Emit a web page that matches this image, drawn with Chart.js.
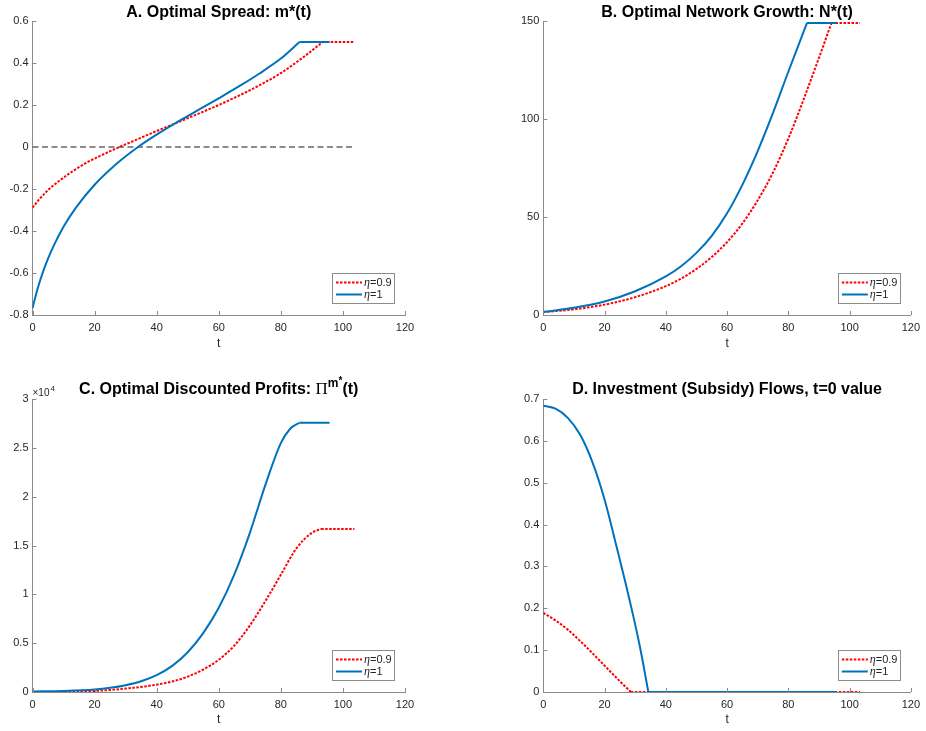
<!DOCTYPE html>
<html>
<head>
<meta charset="utf-8">
<script src="https://cdn.jsdelivr.net/npm/chart.js@4.4.1/dist/chart.umd.min.js"></script>
<style>
  html, body { margin: 0; padding: 0; background: #fff; }
  #wrap { position: relative; width: 926px; height: 731px; }
  canvas { position: absolute; }
</style>
</head>
<body>
<div id="wrap">
  <canvas id="chartA" width="463" height="366" style="left:0;top:0"></canvas>
  <canvas id="chartB" width="463" height="366" style="left:463px;top:0"></canvas>
  <canvas id="chartC" width="463" height="365" style="left:0;top:366px"></canvas>
  <canvas id="chartD" width="463" height="365" style="left:463px;top:366px"></canvas>
</div>
<script>
// ---- values ----
const X_TICKS = [0, 20, 40, 60, 80, 100, 120];
const SERIES_LABELS = ['η=0.9', 'η=1'];

// A. optimal spread m*(t)
const tA_eta09 = [0, 2, 4, 6, 9, 13, 17, 21, 25, 28, 34, 40, 47, 54, 60, 67, 73, 80, 87, 93.5, 103.7];
const mA_eta09 = [-0.289, -0.252, -0.22, -0.192, -0.157, -0.115, -0.078, -0.048, -0.02, 0, 0.038, 0.076, 0.119, 0.162, 0.2, 0.248, 0.293, 0.352, 0.425, 0.5, 0.5];
const tA_eta1 = [0, 1, 2, 3.5, 5, 7, 10, 14, 20, 27, 34, 40, 47, 54, 60, 67, 73, 80, 86, 95.7];
const mA_eta1 = [-0.768, -0.709, -0.657, -0.59, -0.532, -0.465, -0.38, -0.289, -0.18, -0.081, 0, 0.059, 0.122, 0.181, 0.232, 0.293, 0.349, 0.421, 0.5, 0.5];
const tA_zero = [0, 103.7];
const mA_zero = [0, 0];

// B. optimal network growth N*(t)
const tB_eta09 = [0, 10, 20, 30, 40, 45, 50, 55, 60, 65, 70, 75, 80, 85, 90, 94.1, 103.4];
const nB_eta09 = [1.5, 2.9, 5.3, 9.1, 14.7, 18.6, 23.5, 29.6, 37.2, 46.7, 58.5, 72.7, 90, 110, 131.2, 149, 149];
const tB_eta1 = [0, 10, 20, 30, 40, 45, 50, 55, 60, 65, 70, 75, 80, 86.1, 95.7];
const nB_eta1 = [1.5, 3.7, 6.9, 12.1, 19.7, 24.9, 31.7, 40.4, 51.9, 66.4, 83.6, 103.1, 124.1, 149, 149];

// C. optimal discounted profits
const tC_eta09 = [0, 10, 20, 30, 40, 45, 50, 55, 60, 65, 70, 75, 80, 85, 90, 93, 103.7];
const pC_eta09 = [0, 20, 110, 350, 750, 1075, 1575, 2300, 3300, 4750, 6800, 9300, 12000, 14700, 16300, 16690, 16690];
const tC_eta1 = [0, 10, 20, 25, 30, 35, 40, 45, 50, 55, 60, 65, 70, 75, 80, 83, 86, 95.7];
const pC_eta1 = [50, 110, 260, 430, 700, 1100, 1725, 2675, 4075, 6025, 8625, 12025, 16275, 21175, 25475, 26955, 27570, 27570];

// D. investment (subsidy) flows
const tD_eta09 = [0, 4, 8, 12, 16, 20, 24, 28.6, 103.4];
const iD_eta09 = [0.189, 0.171, 0.149, 0.122, 0.093, 0.063, 0.033, 0, 0];
const tD_eta1 = [0, 4, 8, 12, 16, 20, 24, 28, 31.5, 34.3, 95.7];
const iD_eta1 = [0.684, 0.677, 0.655, 0.615, 0.55, 0.46, 0.345, 0.225, 0.11, 0, 0];

// ---- styles ----
const RED = '#FF0000';
const BLUE = '#0072BD';
const AXIS = '#8a8a8a';
const TEXT = '#262626';
const SANS = '"Liberation Sans", Arial, Helvetica, sans-serif';
const SERIF = '"Liberation Serif", "Times New Roman", serif';

function toPoints(ts, vs) {
    return ts.map((t, i) => ({x: t, y: vs[i]}));
}

/**
 * One series = a smooth curve up to the kink, then the flat piece after it.
 */
function seriesDatasets(ts, vs, color, dotted, order) {
    const n = ts.length;
    const style = {
        borderColor: color,
        borderWidth: 2,
        borderDash: dotted ? [2.5, 1.5] : [],
        pointRadius: 0,
        fill: false,
        order: order
    };
    return [
        Object.assign({data: toPoints(ts.slice(0, n - 1), vs.slice(0, n - 1)), cubicInterpolationMode: 'monotone'}, style),
        Object.assign({data: toPoints(ts.slice(n - 2), vs.slice(n - 2))}, style)
    ];
}

// small inward tick marks, like the original
const inwardTicks = {
    id: 'inwardTicks',
    afterDraw(chart) {
        const ctx = chart.ctx, a = chart.chartArea;
        const xs = chart.scales.x, ys = chart.scales.y;
        ctx.save();
        ctx.strokeStyle = AXIS;
        ctx.lineWidth = 1;
        ctx.beginPath();
        xs.ticks.forEach(t => {
            const px = Math.round(xs.getPixelForValue(t.value)) + 0.5;
            ctx.moveTo(px, a.bottom);
            ctx.lineTo(px, a.bottom - 4);
        });
        ys.ticks.forEach(t => {
            const py = Math.round(ys.getPixelForValue(t.value)) + 0.5;
            ctx.moveTo(a.left, py);
            ctx.lineTo(a.left + 4, py);
        });
        ctx.stroke();
        ctx.restore();
    }
};

// titles made of text runs (needed for the Π^{m*} one)
const panelTitle = {
    id: 'panelTitle',
    afterDraw(chart, args, opts) {
        if (!opts.runs) return;
        const ctx = chart.ctx, a = chart.chartArea;
        ctx.save();
        let total = 0;
        opts.runs.forEach(r => { ctx.font = r.font; r.w = ctx.measureText(r.text).width; total += r.w; });
        let x = (a.left + a.right) / 2 - total / 2;
        ctx.fillStyle = '#000';
        ctx.textBaseline = 'alphabetic';
        ctx.textAlign = 'left';
        opts.runs.forEach(r => {
            ctx.font = r.font;
            ctx.fillText(r.text, x, opts.y + (r.dy || 0));
            x += r.w;
        });
        if (opts.exponent) {
            ctx.fillStyle = TEXT;
            ctx.font = '10px ' + SANS;
            ctx.fillText('×10', a.left, a.top - 3);
            const w = ctx.measureText('×10').width;
            ctx.font = '8px ' + SANS;
            ctx.fillText(opts.exponent, a.left + w + 1, a.top - 8);
        }
        ctx.restore();
    }
};

// boxed legend in the lower right corner of the axes
const panelLegend = {
    id: 'panelLegend',
    afterDraw(chart) {
        const ctx = chart.ctx, a = chart.chartArea;
        const w = 62, h = 30;
        const left = a.right - 11 - w, top = a.bottom - 12 - h;
        ctx.save();
        ctx.fillStyle = '#fff';
        ctx.fillRect(left, top, w, h);
        ctx.strokeStyle = '#8c8c8c';
        ctx.lineWidth = 1;
        ctx.strokeRect(Math.round(left) + 0.5, Math.round(top) + 0.5, w, h);
        const entries = [
            {label: SERIES_LABELS[0], color: RED, dash: [2.5, 1.5]},
            {label: SERIES_LABELS[1], color: BLUE, dash: []}
        ];
        entries.forEach((e, i) => {
            const y = top + 9.5 + i * 12;
            ctx.strokeStyle = e.color;
            ctx.lineWidth = 2;
            ctx.setLineDash(e.dash);
            ctx.beginPath();
            ctx.moveTo(left + 4, y);
            ctx.lineTo(left + 30, y);
            ctx.stroke();
            ctx.setLineDash([]);
            ctx.fillStyle = TEXT;
            ctx.textBaseline = 'middle';
            ctx.font = 'italic 12px ' + SERIF;
            ctx.fillText(e.label.charAt(0), left + 32, y);
            const ew = ctx.measureText(e.label.charAt(0)).width;
            ctx.font = '11px ' + SANS;
            ctx.fillText(e.label.slice(1), left + 32 + ew, y);
        });
        ctx.restore();
    }
};

function makeChart(id, cfg) {
    const canvas = document.getElementById(id);
    const W = canvas.width, H = canvas.height, area = cfg.area;
    return new Chart(canvas, {
        type: 'line',
        data: {datasets: cfg.datasets},
        options: {
            responsive: false,
            animation: false,
            events: [],
            layout: {padding: {left: 0, top: area.top, right: W - area.right, bottom: 0}},
            scales: {
                x: {
                    type: 'linear',
                    min: 0, max: 120,
                    afterBuildTicks: s => { s.ticks = X_TICKS.map(v => ({value: v})); },
                    afterFit: s => { s.height = H - area.bottom; },
                    grid: {display: false, drawTicks: false},
                    border: {display: true, color: AXIS, width: 1},
                    ticks: {color: TEXT, font: {family: SANS, size: 11}, padding: 6, maxRotation: 0},
                    title: {display: true, text: 't', color: TEXT, font: {family: SANS, size: 12},
                            padding: {top: 0, bottom: cfg.xTitleOffset - 7.2}}
                },
                y: {
                    min: cfg.yMin, max: cfg.yMax,
                    afterBuildTicks: s => { s.ticks = cfg.yTicks.map(v => ({value: v})); },
                    afterFit: s => { s.width = area.left; },
                    grid: {display: false, drawTicks: false},
                    border: {display: true, color: AXIS, width: 1},
                    ticks: {color: TEXT, font: {family: SANS, size: 11}, padding: 4, callback: cfg.yFormat}
                }
            },
            plugins: {
                legend: {display: false},
                tooltip: {enabled: false},
                panelTitle: cfg.title
            }
        },
        plugins: [inwardTicks, panelTitle, panelLegend]
    });
}

const BOLD = 'bold 16px ' + SANS;
const fmt1 = v => String(+v.toFixed(1));

makeChart('chartA', {
    area: {left: 32.5, right: 405, top: 21, bottom: 315},
    xTitleOffset: 22,
    yMin: -0.8, yMax: 0.6,
    yTicks: [-0.8, -0.6, -0.4, -0.2, 0, 0.2, 0.4, 0.6],
    yFormat: fmt1,
    title: {y: 17, runs: [{text: 'A. Optimal Spread: m*(t)', font: BOLD}]},
    datasets: [
        {data: toPoints(tA_zero, mA_zero), borderColor: '#1a1a1a', borderWidth: 1.2, borderDash: [6, 3.5], pointRadius: 0, order: 2}
    ].concat(seriesDatasets(tA_eta09, mA_eta09, RED, true, 1), seriesDatasets(tA_eta1, mA_eta1, BLUE, false, 0))
});

makeChart('chartB', {
    area: {left: 80.3, right: 453.3, top: 21, bottom: 315},
    xTitleOffset: 22,
    yMin: 0, yMax: 150,
    yTicks: [0, 50, 100, 150],
    yFormat: v => String(v),
    title: {y: 17, runs: [{text: 'B. Optimal Network Growth: N*(t)', font: BOLD}]},
    datasets: seriesDatasets(tB_eta09, nB_eta09, RED, true, 1).concat(seriesDatasets(tB_eta1, nB_eta1, BLUE, false, 0))
});

makeChart('chartC', {
    area: {left: 32.5, right: 405, top: 33, bottom: 326},
    xTitleOffset: 11,
    yMin: 0, yMax: 30000,
    yTicks: [0, 5000, 10000, 15000, 20000, 25000, 30000],
    yFormat: v => String(v / 1e4),
    title: {y: 28, exponent: '4', runs: [
        {text: 'C. Optimal Discounted Profits: ', font: BOLD},
        {text: 'Π', font: '17px ' + SERIF},
        {text: 'm', font: 'bold 12px ' + SANS, dy: -7},
        {text: '*', font: 'bold 10px ' + SANS, dy: -10},
        {text: '(t)', font: BOLD}
    ]},
    datasets: seriesDatasets(tC_eta09, pC_eta09, RED, true, 1).concat(seriesDatasets(tC_eta1, pC_eta1, BLUE, false, 0))
});

makeChart('chartD', {
    area: {left: 80.3, right: 453.3, top: 33, bottom: 326},
    xTitleOffset: 11,
    yMin: 0, yMax: 0.7,
    yTicks: [0, 0.1, 0.2, 0.3, 0.4, 0.5, 0.6, 0.7],
    yFormat: fmt1,
    title: {y: 27.5, runs: [{text: 'D. Investment (Subsidy) Flows, t=0 value', font: BOLD}]},
    datasets: seriesDatasets(tD_eta09, iD_eta09, RED, true, 1).concat(seriesDatasets(tD_eta1, iD_eta1, BLUE, false, 0))
});
</script>
</body>
</html>
